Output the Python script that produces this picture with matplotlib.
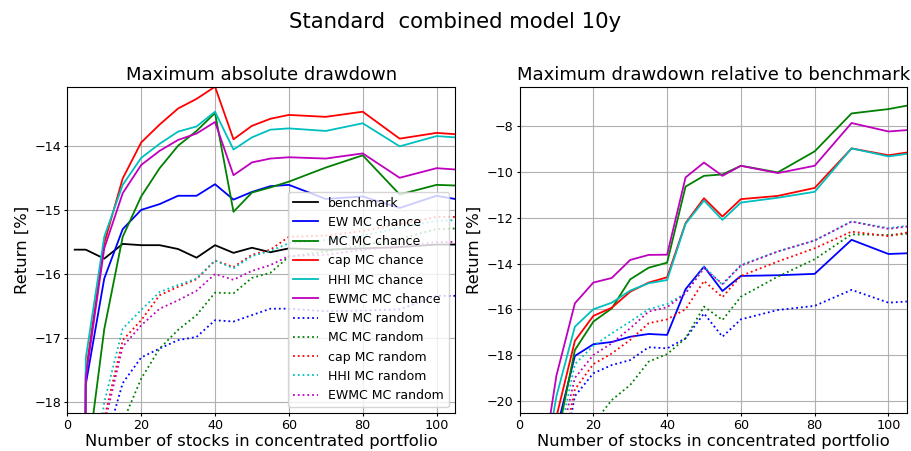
import matplotlib
matplotlib.use("Agg")
import matplotlib.pyplot as plt

# ---------------- data ----------------
n_stocks = [2, 5, 10, 15, 20, 25, 30, 35, 40, 45, 50, 55, 60, 70, 80, 90, 100, 105]

labels = ["benchmark",
          "EW MC chance", "MC MC chance", "cap MC chance", "HHI MC chance", "EWMC MC chance",
          "EW MC random", "MC MC random", "cap MC random", "HHI MC random", "EWMC MC random"]

# Maximum absolute drawdown
abs_benchmark = [-15.62, -15.62, -15.76, -15.53, -15.55, -15.55, -15.61, -15.745, -15.55, -15.67,
                 -15.59, -15.66, -15.60, -15.62, -15.60, -15.58, -15.54, -15.54]
abs_ew_chance = [-40.0, -17.72, -16.07, -15.30, -15.00, -14.91, -14.78, -14.78, -14.60, -14.84,
                 -14.72, -14.63, -14.61, -14.83, -14.79, -14.97, -14.78, -14.83]
abs_mc_chance = [-45.0, -19.10, -16.86, -15.42, -14.79, -14.35, -14.00, -13.77, -13.49, -15.03,
                 -14.73, -14.65, -14.56, -14.34, -14.15, -14.76, -14.61, -14.62]
abs_cap_chance = [-40.0, -17.53, -15.52, -14.51, -13.95, -13.67, -13.42, -13.27, -13.08, -13.90,
                  -13.69, -13.58, -13.52, -13.55, -13.47, -13.89, -13.80, -13.82]
abs_hhi_chance = [-40.0, -17.31, -15.42, -14.61, -14.19, -13.97, -13.78, -13.70, -13.47, -14.06,
                  -13.87, -13.75, -13.73, -13.77, -13.65, -14.01, -13.85, -13.87]
abs_ewmc_chance = [-40.0, -17.62, -15.60, -14.74, -14.30, -14.08, -13.91, -13.81, -13.63, -14.46,
                   -14.26, -14.20, -14.18, -14.20, -14.12, -14.50, -14.35, -14.37]
abs_ew_random = [-45.0, -21.0, -18.70, -17.70, -17.30, -17.16, -17.03, -16.98, -16.72, -16.74,
                 -16.64, -16.54, -16.54, -16.58, -16.57, -16.55, -16.34, -16.34]
abs_mc_random = [-45.0, -22.0, -19.50, -18.31, -17.63, -17.16, -16.87, -16.64, -16.29, -16.30,
                 -16.06, -15.98, -15.73, -15.65, -15.55, -15.45, -15.30, -15.29]
abs_cap_random = [-45.0, -20.5, -18.25, -17.03, -16.72, -16.33, -16.20, -16.08, -15.79, -15.89,
                  -15.70, -15.62, -15.42, -15.40, -15.33, -15.22, -15.11, -15.11]
abs_hhi_random = [-45.0, -20.0, -18.00, -16.85, -16.56, -16.28, -16.17, -16.07, -15.79, -15.91,
                  -15.72, -15.64, -15.52, -15.47, -15.40, -15.28, -15.17, -15.16]
abs_ewmc_random = [-45.0, -20.8, -18.35, -17.13, -16.80, -16.54, -16.41, -16.26, -16.00, -16.09,
                   -15.95, -15.86, -15.72, -15.70, -15.62, -15.58, -15.50, -15.50]

# Maximum drawdown relative to benchmark
rel_ew_chance = [-45.0, -28.0, -21.30, -18.04, -17.53, -17.43, -17.20, -17.08, -17.12, -15.12,
                 -14.13, -15.20, -14.54, -14.51, -14.45, -12.96, -13.58, -13.55]
rel_mc_chance = [-45.0, -28.0, -21.80, -17.78, -16.54, -15.96, -14.69, -14.18, -13.96, -10.63,
                 -10.16, -10.10, -9.72, -10.01, -9.09, -7.43, -7.24, -7.09]
rel_cap_chance = [-45.0, -27.0, -20.70, -17.38, -16.29, -15.93, -15.23, -14.83, -14.60, -12.23,
                  -11.14, -11.94, -11.18, -11.04, -10.69, -8.96, -9.26, -9.14]
rel_hhi_chance = [-45.0, -24.5, -19.80, -16.76, -16.00, -15.71, -15.18, -14.86, -14.72, -12.26,
                  -11.24, -12.09, -11.33, -11.12, -10.86, -8.96, -9.31, -9.20]
rel_ewmc_chance = [-45.0, -24.1, -18.90, -15.74, -14.83, -14.63, -13.84, -13.62, -13.61, -10.23,
                   -9.58, -10.16, -9.72, -10.04, -9.72, -7.85, -8.22, -8.16]
rel_ew_random = [-45.0, -30.0, -24.0, -19.80, -18.80, -18.44, -18.22, -17.66, -17.71, -17.27,
                 -16.18, -17.20, -16.44, -16.03, -15.85, -15.15, -15.71, -15.66]
rel_mc_random = [-45.0, -30.0, -25.0, -22.50, -21.00, -19.97, -19.31, -18.29, -17.96, -17.27,
                 -15.88, -16.47, -15.45, -14.57, -13.81, -12.72, -12.75, -12.70]
rel_cap_random = [-45.0, -30.0, -23.4, -19.50, -18.40, -17.93, -17.34, -16.61, -16.44, -16.00,
                  -14.76, -15.47, -14.54, -13.91, -13.33, -12.60, -12.80, -12.64]
rel_hhi_random = [-45.0, -29.0, -22.2, -18.40, -17.60, -17.05, -16.54, -16.00, -15.77, -15.30,
                  -14.13, -14.93, -14.06, -13.47, -12.99, -12.16, -12.45, -12.35]
rel_ewmc_random = [-45.0, -29.0, -22.5, -19.00, -18.00, -17.49, -16.83, -16.10, -15.91, -15.30,
                   -14.20, -14.89, -14.09, -13.47, -12.99, -12.16, -12.48, -12.38]

# ---------------- styles ----------------
colors = ["b", "g", "r", "c", "m"]
LW = 1.3
TICK_FS = 9.2
LABEL_FS = 11.8
TITLE_FS = 13.0

fig = plt.figure(figsize=(9.11, 4.51), dpi=100)
ax1 = fig.add_axes([0.0739, 0.0836, 0.4256, 0.7242])
ax2 = fig.add_axes([0.5703, 0.0836, 0.4252, 0.7242])

abs_chance = [abs_ew_chance, abs_mc_chance, abs_cap_chance, abs_hhi_chance, abs_ewmc_chance]
abs_random = [abs_ew_random, abs_mc_random, abs_cap_random, abs_hhi_random, abs_ewmc_random]
rel_chance = [rel_ew_chance, rel_mc_chance, rel_cap_chance, rel_hhi_chance, rel_ewmc_chance]
rel_random = [rel_ew_random, rel_mc_random, rel_cap_random, rel_hhi_random, rel_ewmc_random]

ax1.plot(n_stocks, abs_benchmark, color="k", lw=LW, label=labels[0])
for i, (ys, c) in enumerate(zip(abs_chance, colors)):
    ax1.plot(n_stocks, ys, color=c, lw=LW, label=labels[1 + i])
for i, (ys, c) in enumerate(zip(abs_random, colors)):
    ax1.plot(n_stocks, ys, color=c, lw=LW, ls=":", label=labels[6 + i])

for ys, c in zip(rel_chance, colors):
    ax2.plot(n_stocks, ys, color=c, lw=LW)
for ys, c in zip(rel_random, colors):
    ax2.plot(n_stocks, ys, color=c, lw=LW, ls=":")

ax1.set_xlim(0, 105)
ax1.set_ylim(-18.17, -13.08)
ax2.set_xlim(0, 105)
ax2.set_ylim(-20.55, -6.26)

ax1.set_yticks([-18, -17, -16, -15, -14])
ax2.set_yticks([-20, -18, -16, -14, -12, -10, -8])

for ax, title in [(ax1, "Maximum absolute drawdown"),
                  (ax2, "Maximum drawdown relative to benchmark")]:
    ax.set_xticks([0, 20, 40, 60, 80, 100])
    ax.grid(True, color="#b0b0b0", lw=0.8)
    ax.tick_params(labelsize=TICK_FS, length=2.5, pad=1.8)
    ax.set_xlabel("Number of stocks in concentrated portfolio", fontsize=LABEL_FS, labelpad=1.5)
    ax.set_ylabel("Return [%]", fontsize=LABEL_FS, labelpad=3.5)
    ax.set_title(title, fontsize=TITLE_FS, pad=5)

ax1.legend(loc="lower right", fontsize=9.0)

fig.suptitle("Standard  combined model 10y", fontsize=15.3, y=0.951, va="center")

fig.savefig("out.png", dpi=100)
